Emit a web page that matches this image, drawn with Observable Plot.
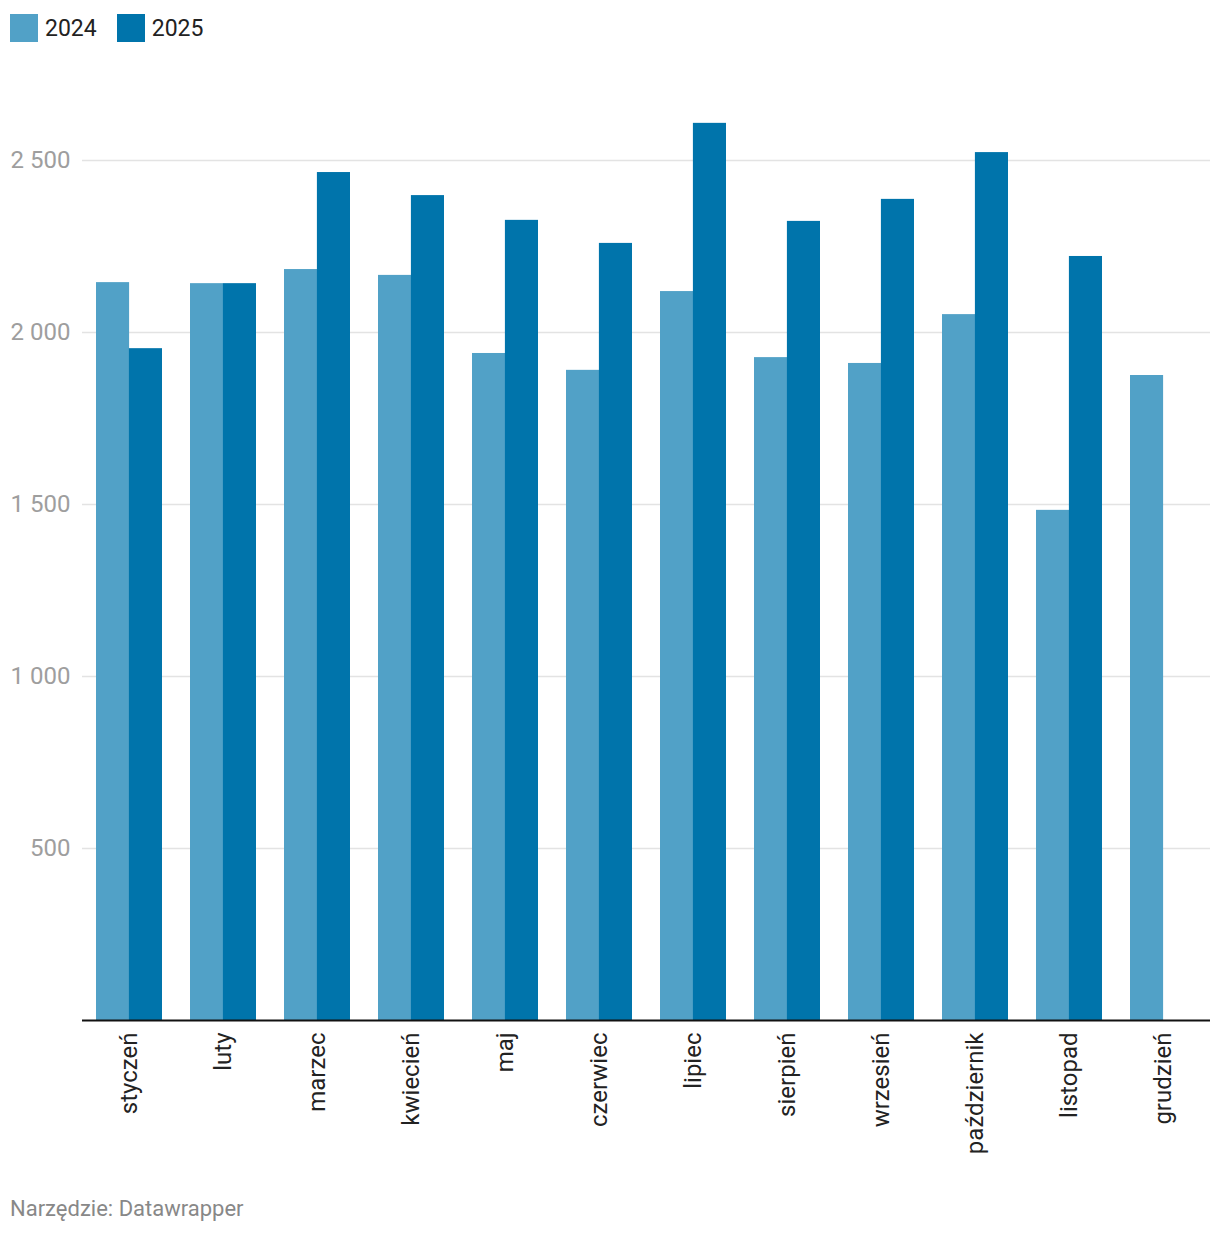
<!DOCTYPE html>
<html>
<head>
<meta charset="utf-8">
<script src="https://cdn.jsdelivr.net/npm/d3@7"></script>
<script src="https://cdn.jsdelivr.net/npm/@observablehq/plot@0.6"></script>
<style>
  html, body { margin: 0; padding: 0; background: #fff; font-family: Roboto, "Noto Sans", sans-serif; }
  #wrap { position: relative; width: 1220px; height: 1236px; }
  #legend { position: absolute; left: 10px; top: 14px; display: flex; align-items: center; font-size: 23px; color: #222; }
  .item { display: flex; align-items: center; margin-right: 20px; }
  .sw { width: 28px; height: 28px; margin-right: 7px; }
  #chart { position: absolute; left: 0; top: 60px; }
  #footer { position: absolute; left: 10px; top: 1196px; font-size: 22px; color: #888; }
</style>
</head>
<body>
<div id="wrap">
  <div id="legend"></div>
  <div id="chart"></div>
  <div id="footer">Narzędzie: Datawrapper</div>
</div>
<script>
const months = ["styczeń","luty","marzec","kwiecień","maj","czerwiec","lipiec","sierpień","wrzesień","październik","listopad","grudzień"];
const years = ["2024","2025"];
const values2024 = [2145, 2142, 2183, 2166, 1939, 1890, 2119, 1927, 1910, 2052, 1483, 1875];
const values2025 = [1953, 2142, 2465, 2398, 2326, 2259, 2608, 2323, 2387, 2523, 2221, null];
const yTicks = [500, 1000, 1500, 2000, 2500];
const colors = ["#51a1c7", "#0074ab"];

const rows2024 = months.map((m, i) => ({month: m, year: "2024", value: values2024[i]}));
const rows2025 = months.map((m, i) => ({month: m, year: "2025", value: values2025[i]})).filter(d => d.value != null);

const fmt = d => d3.format(",")(d).replace(/,/g, " ");

const width = 1220, height = 1120;
const marginLeft = 82, marginRight = 10, marginTop = 31.2, marginBottom = 160;
const step = (width - marginLeft - marginRight) / (months.length - 0.3 + 0.3);
const half = step * 0.7 / 2;

const chart = Plot.plot({
  width, height, marginLeft, marginRight, marginTop, marginBottom,
  style: {fontFamily: "Roboto, sans-serif", background: "#fff"},
  x: {domain: months, paddingInner: 0.3, paddingOuter: 0.15, label: null},
  y: {domain: [0, 2700], label: null},
  color: {domain: years, range: colors},
  marks: [
    Plot.gridY(yTicks, {stroke: "#e3e3e3", strokeOpacity: 1, strokeWidth: 1.5}),
    Plot.axisY(yTicks, {tickSize: 0, tickPadding: 12, tickFormat: fmt, fontSize: 24, fill: "#9e9e9e", label: null}),
    Plot.barY(rows2024, {x: "month", y: "value", fill: d => d.year, insetLeft: 0, insetRight: half}),
    Plot.barY(rows2025, {x: "month", y: "value", fill: d => d.year, insetLeft: half, insetRight: 0}),
    Plot.ruleY([0], {stroke: "#111", strokeWidth: 2}),
    Plot.axisX({tickSize: 0, tickPadding: 12, tickRotate: -90, fontSize: 24, fill: "#222", label: null})
  ]
});
document.getElementById("chart").appendChild(chart);

const legend = document.getElementById("legend");
years.forEach((y, i) => {
  const it = document.createElement("div");
  it.className = "item";
  const sw = document.createElement("div");
  sw.className = "sw";
  sw.style.background = colors[i];
  const t = document.createElement("span");
  t.textContent = y;
  it.appendChild(sw); it.appendChild(t);
  legend.appendChild(it);
});
</script>
</body>
</html>
